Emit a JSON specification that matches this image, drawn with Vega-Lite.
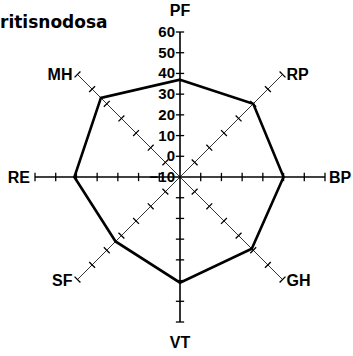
{
  "$schema": "https://vega.github.io/schema/vega-lite/v6.json",
  "width": 353,
  "height": 356,
  "padding": 0,
  "autosize": {"type": "none"},
  "title": {
    "text": "ritisnodosa",
    "anchor": "start",
    "frame": "group",
    "orient": "top",
    "offset": -45,
    "baseline": "alphabetic",
    "font": "DejaVu Sans",
    "fontSize": 17,
    "fontWeight": "bold",
    "color": "black"
  },
  "config": {"view": {"stroke": null}},
  "datasets": {
    "spokes": [
      {"axis": "PF", "idx": 0, "score": 37, "ticks": [0, 10, 20, 30, 40, 50, 60]},
      {"axis": "RP", "idx": 1, "score": 40, "ticks": [0, 10, 20, 30, 40, 50, 60]},
      {"axis": "BP", "idx": 2, "score": 40, "ticks": [0, 10, 20, 30, 40, 50, 60]},
      {"axis": "GH", "idx": 3, "score": 39, "ticks": [0, 10, 20, 30, 40, 50, 60]},
      {"axis": "VT", "idx": 4, "score": 41, "ticks": [0, 10, 20, 30, 40, 50, 60]},
      {"axis": "SF", "idx": 5, "score": 34, "ticks": [0, 10, 20, 30, 40, 50, 60]},
      {"axis": "RE", "idx": 6, "score": 41, "ticks": [0, 10, 20, 30, 40, 50, 60]},
      {"axis": "MH", "idx": 7, "score": 44, "ticks": [0, 10, 20, 30, 40, 50, 60]}
    ],
    "scaleLabels": [
      {"v": 60}, {"v": 50}, {"v": 40}, {"v": 30}, {"v": 20}, {"v": 10}, {"v": 0}, {"v": -10}
    ]
  },
  "layer": [
    {
      "data": {"name": "spokes"},
      "transform": [
        {"filter": "datum.idx % 2 == 1"},
        {"calculate": "datum.idx * PI / 4", "as": "theta"},
        {"calculate": "70 * sin(datum.theta)", "as": "ex"},
        {"calculate": "70 * cos(datum.theta)", "as": "ey"}
      ],
      "mark": {"type": "rule", "color": "#333", "strokeWidth": 1},
      "encoding": {
        "x": {"field": "ex", "type": "quantitative", "scale": {"domain": [-86.9, 83.52], "nice": false, "zero": false}, "axis": null},
        "y": {"field": "ey", "type": "quantitative", "scale": {"domain": [-86.41, 85.45], "nice": false, "zero": false}, "axis": null},
        "x2": {"datum": 0},
        "y2": {"datum": 0}
      }
    },
    {
      "data": {"name": "spokes"},
      "transform": [
        {"filter": "datum.idx % 2 == 0"},
        {"calculate": "datum.idx * PI / 4", "as": "theta"},
        {"calculate": "70 * sin(datum.theta)", "as": "ex"},
        {"calculate": "70 * cos(datum.theta)", "as": "ey"}
      ],
      "mark": {"type": "rule", "color": "black", "strokeWidth": 1.6},
      "encoding": {
        "x": {"field": "ex", "type": "quantitative", "scale": {"domain": [-86.9, 83.52], "nice": false, "zero": false}, "axis": null},
        "y": {"field": "ey", "type": "quantitative", "scale": {"domain": [-86.41, 85.45], "nice": false, "zero": false}, "axis": null},
        "x2": {"datum": 0},
        "y2": {"datum": 0}
      }
    },
    {
      "data": {"name": "spokes"},
      "transform": [
        {"flatten": ["ticks"], "as": ["tick"]},
        {"calculate": "datum.idx * PI / 4", "as": "theta"},
        {"calculate": "(datum.tick + 10) * sin(datum.theta)", "as": "cx"},
        {"calculate": "(datum.tick + 10) * cos(datum.theta)", "as": "cy"},
        {"calculate": "datum.cx + 2 * cos(datum.theta)", "as": "tx1"},
        {"calculate": "datum.cx - 2 * cos(datum.theta)", "as": "tx2"},
        {"calculate": "datum.cy - 2 * sin(datum.theta)", "as": "ty1"},
        {"calculate": "datum.cy + 2 * sin(datum.theta)", "as": "ty2"}
      ],
      "mark": {"type": "rule", "color": "black", "strokeWidth": 1.3},
      "encoding": {
        "x": {"field": "tx1", "type": "quantitative", "scale": {"domain": [-86.9, 83.52], "nice": false, "zero": false}, "axis": null},
        "y": {"field": "ty1", "type": "quantitative", "scale": {"domain": [-86.41, 85.45], "nice": false, "zero": false}, "axis": null},
        "x2": {"field": "tx2"},
        "y2": {"field": "ty2"}
      }
    },
    {
      "data": {"name": "spokes"},
      "transform": [
        {"calculate": "datum.idx * PI / 4", "as": "theta"},
        {"calculate": "(datum.score + 10) * sin(datum.theta)", "as": "px"},
        {"calculate": "(datum.score + 10) * cos(datum.theta)", "as": "py"}
      ],
      "mark": {"type": "line", "interpolate": "linear-closed", "color": "black", "strokeWidth": 2.6, "strokeJoin": "miter"},
      "encoding": {
        "x": {"field": "px", "type": "quantitative", "scale": {"domain": [-86.9, 83.52], "nice": false, "zero": false}, "axis": null},
        "y": {"field": "py", "type": "quantitative", "scale": {"domain": [-86.41, 85.45], "nice": false, "zero": false}, "axis": null},
        "order": {"field": "idx", "type": "quantitative"}
      }
    },
    {
      "data": {"name": "scaleLabels"},
      "transform": [
        {"calculate": "datum.v + 10", "as": "r"},
        {"calculate": "0", "as": "ax"}
      ],
      "mark": {"type": "text", "align": "right", "baseline": "middle", "dx": -5, "font": "Liberation Sans", "fontSize": 15, "fontWeight": "bold", "color": "black"},
      "encoding": {
        "x": {"field": "ax", "type": "quantitative", "scale": {"domain": [-86.9, 83.52], "nice": false, "zero": false}, "axis": null},
        "y": {"field": "r", "type": "quantitative", "scale": {"domain": [-86.41, 85.45], "nice": false, "zero": false}, "axis": null},
        "text": {"field": "v", "type": "quantitative"}
      }
    },
    {
      "data": {"name": "spokes"},
      "transform": [
        {"filter": "datum.idx == 0 || datum.idx == 4"},
        {"calculate": "datum.idx * PI / 4", "as": "theta"},
        {"calculate": "80 * sin(datum.theta)", "as": "lx"},
        {"calculate": "80 * cos(datum.theta)", "as": "ly"}
      ],
      "mark": {"type": "text", "align": "center", "baseline": "middle", "font": "Liberation Sans", "fontSize": 16, "fontWeight": "bold", "color": "black"},
      "encoding": {
        "x": {"field": "lx", "type": "quantitative", "scale": {"domain": [-86.9, 83.52], "nice": false, "zero": false}, "axis": null},
        "y": {"field": "ly", "type": "quantitative", "scale": {"domain": [-86.41, 85.45], "nice": false, "zero": false}, "axis": null},
        "text": {"field": "axis", "type": "nominal"}
      }
    },
    {
      "data": {"name": "spokes"},
      "transform": [
        {"filter": "datum.idx >= 1 && datum.idx <= 3"},
        {"calculate": "datum.idx * PI / 4", "as": "theta"},
        {"calculate": "70 * sin(datum.theta)", "as": "lx"},
        {"calculate": "70 * cos(datum.theta)", "as": "ly"}
      ],
      "mark": {"type": "text", "align": "left", "baseline": "middle", "dx": 4, "dy": 1, "font": "Liberation Sans", "fontSize": 16, "fontWeight": "bold", "color": "black"},
      "encoding": {
        "x": {"field": "lx", "type": "quantitative", "scale": {"domain": [-86.9, 83.52], "nice": false, "zero": false}, "axis": null},
        "y": {"field": "ly", "type": "quantitative", "scale": {"domain": [-86.41, 85.45], "nice": false, "zero": false}, "axis": null},
        "text": {"field": "axis", "type": "nominal"}
      }
    },
    {
      "data": {"name": "spokes"},
      "transform": [
        {"filter": "datum.idx >= 5"},
        {"calculate": "datum.idx * PI / 4", "as": "theta"},
        {"calculate": "70 * sin(datum.theta)", "as": "lx"},
        {"calculate": "70 * cos(datum.theta)", "as": "ly"}
      ],
      "mark": {"type": "text", "align": "right", "baseline": "middle", "dx": -5, "dy": 1, "font": "Liberation Sans", "fontSize": 16, "fontWeight": "bold", "color": "black"},
      "encoding": {
        "x": {"field": "lx", "type": "quantitative", "scale": {"domain": [-86.9, 83.52], "nice": false, "zero": false}, "axis": null},
        "y": {"field": "ly", "type": "quantitative", "scale": {"domain": [-86.41, 85.45], "nice": false, "zero": false}, "axis": null},
        "text": {"field": "axis", "type": "nominal"}
      }
    }
  ]
}
